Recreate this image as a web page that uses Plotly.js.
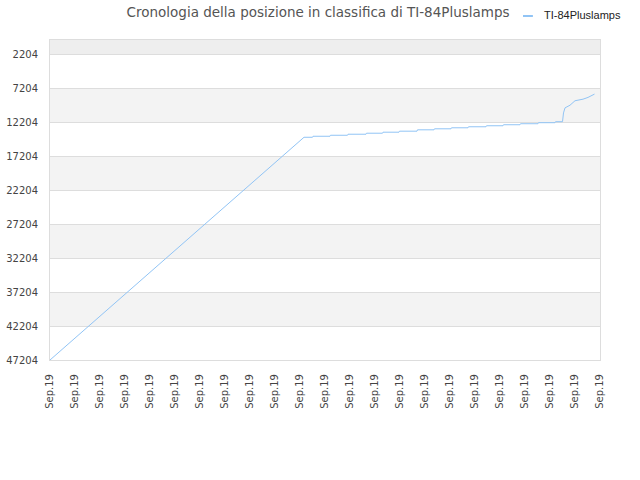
<!DOCTYPE html>
<html>
<head>
<meta charset="utf-8">
<script src="https://cdn.plot.ly/plotly-3.0.1.min.js"></script>
<style>
  body { margin: 0; background: #fff; }
  #chart { width: 640px; height: 480px; }
</style>
</head>
<body>
<div id="chart"></div>
<script>
// position over time (index 0..220, one label every 10 points)
var steps = [0, 10, 20, 30, 40, 50, 60, 70, 80, 90, 101.6,
             105, 105.2, 112, 112.2, 119, 119.2, 126.4, 126.6, 133, 133.2,
             139.6, 139.8, 146.8, 147, 153.6, 153.8, 160.4, 160.6, 167.2, 167.4,
             174.4, 174.6, 181.2, 181.4, 188, 188.2, 195.2, 195.4, 202, 202.2, 205,
             205.4, 206, 208, 210, 213.2, 215.2, 217.8];
var positions = [47204, 43970, 40740, 37500, 34270, 31040, 27800, 24570, 21340, 18110, 14350,
                 14350, 14200, 14200, 14050, 14050, 13900, 13900, 13750, 13750, 13600,
                 13600, 13450, 13450, 13250, 13250, 13100, 13100, 12950, 12950, 12800,
                 12800, 12650, 12650, 12500, 12500, 12350, 12350, 12200, 12200, 12050, 12050,
                 10760, 10010, 9620, 8960, 8730, 8470, 7980];

var tickPos = [0, 10, 20, 30, 40, 50, 60, 70, 80, 90, 100, 110, 120, 130, 140,
               150, 160, 170, 180, 190, 200, 210, 220];
var tickText = tickPos.map(function(){ return "Sep.19"; });
var yTicks = [2204, 7204, 12204, 17204, 22204, 27204, 32204, 37204, 42204, 47204];
var yTickText = yTicks.map(String);
var seriesName = "TI-84Pluslamps";
var lineColor = "rgb(145,196,245)";

var bands = [{y0: 0, y1: 2204, fillcolor: "#eeeeee"}];
for (var i = 1; i < yTicks.length - 1; i += 2) {
    bands.push({y0: yTicks[i], y1: yTicks[i + 1], fillcolor: "#f3f3f3"});
}
var shapes = bands.map(function(b){
    return {type: "rect", xref: "paper", yref: "y", x0: 0, x1: 1,
            y0: b.y0, y1: b.y1, fillcolor: b.fillcolor, line: {width: 0}, layer: "below"};
});
// short legend key, drawn by hand
shapes.push({type: "line", xref: "paper", yref: "paper",
             x0: 0.86, x1: 0.878, y0: 1.075, y1: 1.075,
             line: {color: lineColor, width: 2}});

var data = [{
    x: steps,
    y: positions,
    type: "scatter",
    mode: "lines",
    name: seriesName,
    showlegend: false,
    line: {color: lineColor, width: 1}
}];

var layout = {
    width: 640,
    height: 480,
    margin: {l: 50, r: 40, t: 40, b: 120, autoexpand: false},
    paper_bgcolor: "#fff",
    plot_bgcolor: "#fff",
    font: {family: "DejaVu Sans", size: 10, color: "#444"},
    title: {
        text: "Cronologia della posizione in classifica di TI-84Pluslamps",
        font: {family: "DejaVu Sans", size: 13.5, color: "#555"},
        x: 0.497, xanchor: "center", y: 0.975, yanchor: "middle"
    },
    showlegend: false,
    annotations: [{
        text: seriesName,
        xref: "paper", yref: "paper",
        x: 0.8945, xanchor: "left", y: 1.078, yanchor: "middle",
        showarrow: false,
        font: {family: "Liberation Sans", size: 11, color: "#222"}
    }],
    xaxis: {
        range: [0, 220],
        tickvals: tickPos,
        ticktext: tickText,
        tickangle: -90,
        showgrid: false,
        zeroline: false,
        showline: true,
        mirror: true,
        linecolor: "#dddddd",
        ticks: "outside",
        ticklen: 9,
        tickcolor: "rgba(0,0,0,0)",
        tickfont: {size: 10, color: "#444"}
    },
    yaxis: {
        range: [47204, 0],
        tickvals: yTicks,
        ticktext: yTickText,
        showgrid: true,
        gridcolor: "#dddddd",
        zeroline: false,
        showline: true,
        mirror: true,
        linecolor: "#dddddd",
        ticks: "outside",
        ticklen: 9,
        tickcolor: "rgba(0,0,0,0)",
        tickfont: {size: 10, color: "#444"}
    },
    shapes: shapes
};

Plotly.newPlot("chart", data, layout, {displayModeBar: false, staticPlot: true});
</script>
</body>
</html>
